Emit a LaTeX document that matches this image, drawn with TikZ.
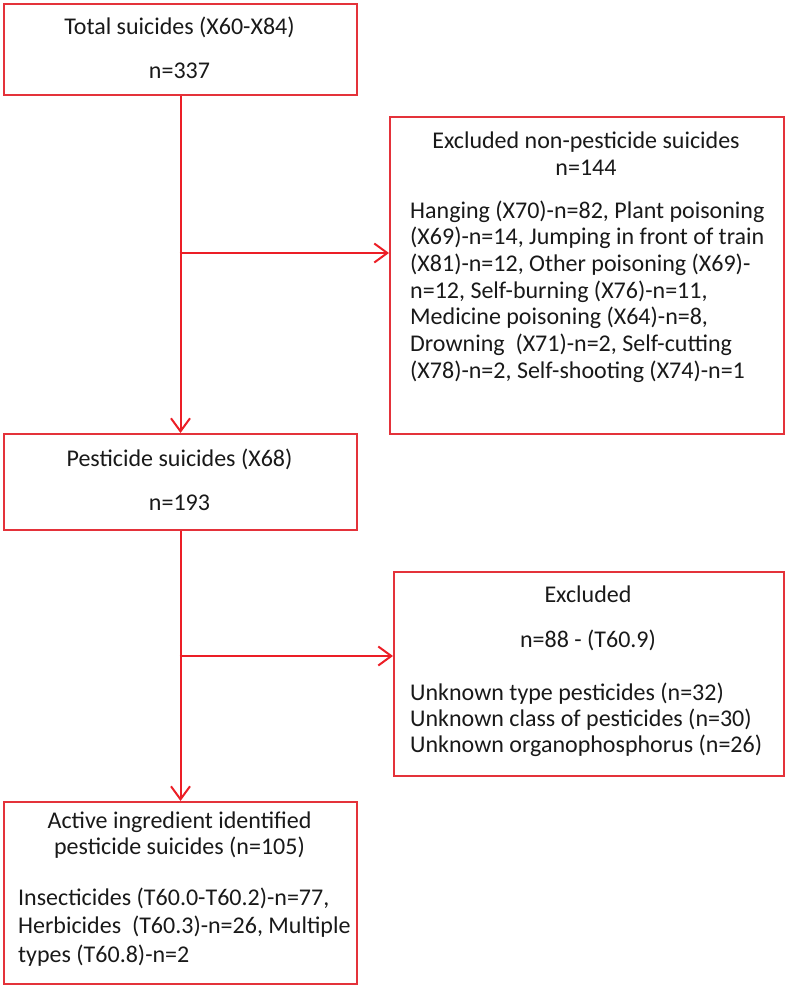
\documentclass[tikz,border=0pt]{standalone}
\usepackage{fontspec}
\setmainfont{Carlito}
\usetikzlibrary{arrows.meta}
\definecolor{boxred}{RGB}{228,50,58}
\definecolor{arrred}{RGB}{236,30,38}
\definecolor{ink}{RGB}{25,25,25}
\begin{document}
\begin{tikzpicture}[x=1pt,y=-1pt,
  box/.style={draw=boxred,line width=2pt,inner sep=0pt,anchor=north west},
  conn/.style={draw=arrred,line width=2pt,-{Straight Barb[length=13pt,width=19pt,line width=2pt]}},
  txt/.style={font=\fontsize{24}{28}\selectfont,text=ink,inner sep=0pt,anchor=base},
  ltxt/.style={txt,anchor=base west}]
\useasboundingbox (0,0) rectangle (787,986);
% boxes
\node[box,minimum width=353pt,minimum height=91pt] (b1) at (3,3) {};
\node[box,minimum width=394pt,minimum height=317pt] (b2) at (389,116) {};
\node[box,minimum width=353pt,minimum height=96pt] (b3) at (3,433) {};
\node[box,minimum width=390pt,minimum height=204pt] (b4) at (393,571) {};
\node[box,minimum width=353pt,minimum height=182pt] (b5) at (3,801) {};
% texts box 1
\node[txt] (t1a) at (179.5,34) {Total suicides (X60-X84)};
\node[txt] (t1b) at (179.5,78) {n=337};
% box 2
\node[txt] (t2a) at (586,148) {Excluded non-pesticide suicides};
\node[txt] (t2b) at (586,175) {n=144};
\node[ltxt] (t2c) at (410,218) {Hanging (X70)-n=82, Plant poisoning};
\node[ltxt] (t2d) at (410,244.7) {(X69)-n=14, Jumping in front of train};
\node[ltxt] (t2e) at (410,271.4) {(X81)-n=12, Other poisoning (X69)-};
\node[ltxt] (t2f) at (410,298.1) {n=12, Self-burning (X76)-n=11,};
\node[ltxt] (t2g) at (410,324.8) {Medicine poisoning (X64)-n=8,};
\node[ltxt] (t2h) at (410,351.5) {Drowning~ (X71)-n=2, Self-cutting};
\node[ltxt] (t2i) at (410,378.2) {(X78)-n=2, Self-shooting (X74)-n=1};
% box 3
\node[txt] (t3a) at (179.5,466) {Pesticide suicides (X68)};
\node[txt] (t3b) at (179.5,510) {n=193};
% box 4
\node[txt] (t4a) at (588,602) {Excluded};
\node[txt] (t4b) at (588,647) {n=88 - (T60.9)};
\node[ltxt] (t4c) at (410,700) {Unknown type pesticides (n=32)};
\node[ltxt] (t4d) at (410,726) {Unknown class of pesticides (n=30)};
\node[ltxt] (t4e) at (410,752) {Unknown organophosphorus (n=26)};
% box 5
\node[txt] (t5a) at (179.5,828) {Active ingredient identified};
\node[txt] (t5b) at (179.5,854) {pesticide suicides (n=105)};
\node[ltxt] (t5c) at (18,905) {Insecticides (T60.0-T60.2)-n=77,};
\node[ltxt] (t5d) at (18,933) {Herbicides~ (T60.3)-n=26, Multiple};
\node[ltxt] (t5e) at (18,962) {types (T60.8)-n=2};
% connectors
\draw[conn] (b1.south) -- (b3.north);
\draw[conn] (b3.south) -- (b5.north);
\coordinate (j1) at (179.5,253);
\coordinate (j2) at (179.5,656);
\draw[conn] (j1) -- (j1 -| b2.west);
\draw[conn] (j2) -- (j2 -| b4.west);
\end{tikzpicture}
\end{document}
